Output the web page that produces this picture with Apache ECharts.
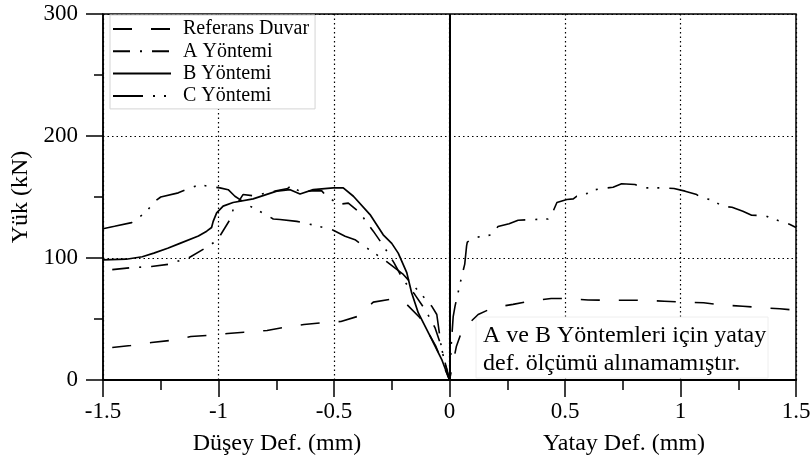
<!DOCTYPE html>
<html>
<head>
<meta charset="utf-8">
<script src="https://cdn.jsdelivr.net/npm/echarts@6/dist/echarts.min.js"></script>
<style>
  html, body { margin: 0; padding: 0; background: #fff; }
  #chart { width: 811px; height: 466px; }
</style>
</head>
<body>
<div id="chart"></div>
<script>
// [deformasyon (mm), yük (kN)] -- negatif: düşey, pozitif: yatay
const referansDuvar = [
  [-1.46, 26.6], [-1.38, 28.3], [-1.29, 30.7], [-1.21, 32.4], [-1.12, 35.6], [-1.05, 36.5],
  [-0.96, 38.1], [-0.89, 39.2], [-0.79, 40.6], [-0.72, 43], [-0.63, 45.5], [-0.55, 47],
  [-0.47, 48], [-0.40, 52], [-0.33, 63.8], [-0.26, 66], [-0.185, 62], [-0.128, 51],
  [-0.06, 28], [0, 0], [0.03, 27.7], [0.055, 41], [0.124, 53.7], [0.19, 59.4],
  [0.275, 62], [0.35, 64.6], [0.44, 66.8], [0.5, 66.8], [0.6, 65.6], [0.7, 65.4],
  [0.81, 65.4], [0.93, 64.6], [1.0, 64], [1.1, 63.3], [1.17, 61.6], [1.27, 60.5],
  [1.34, 59.4], [1.43, 58.4], [1.5, 57.2]
];
const aYontemi = [
  [-1.46, 90.5], [-1.38, 92], [-1.29, 93], [-1.21, 95], [-1.167, 98], [-1.13, 100],
  [-1.058, 108], [-1.022, 112.5], [-0.994, 118], [-0.95, 131.6], [-0.936, 140], [-0.907, 148],
  [-0.894, 152], [-0.85, 151], [-0.8, 153], [-0.75, 155], [-0.7, 157], [-0.683, 160],
  [-0.661, 156], [-0.64, 154], [-0.6, 155], [-0.553, 155], [-0.539, 152], [-0.526, 150],
  [-0.481, 144], [-0.438, 145], [-0.387, 137], [-0.358, 129], [-0.33, 122], [-0.286, 110],
  [-0.24, 96], [-0.2, 82], [-0.15, 70], [-0.1, 56], [-0.063, 43], [-0.04, 30], [0, 0]
];
const bYontemi = [
  [-1.5, 98.5], [-1.4, 99], [-1.33, 101], [-1.28, 104], [-1.22, 108], [-1.167, 112],
  [-1.087, 118], [-1.051, 122], [-1.03, 125], [-1.023, 130], [-1.008, 137], [-0.98, 142.5],
  [-0.937, 145.5], [-0.85, 148.5], [-0.748, 154.8], [-0.69, 156], [-0.647, 152.5], [-0.59, 156],
  [-0.503, 157.5], [-0.495, 156], [-0.46, 157.5], [-0.416, 150.6], [-0.344, 135.6], [-0.287, 119],
  [-0.25, 112], [-0.222, 104], [-0.185, 88], [-0.164, 71.5], [-0.135, 55], [-0.084, 36],
  [-0.034, 17], [0, 0]
];
const cYontemi = [
  [-1.5, 124], [-1.45, 126], [-1.376, 129], [-1.328, 135.6], [-1.304, 140], [-1.275, 146.6],
  [-1.25, 150], [-1.174, 153.4], [-1.123, 157.5], [-1.08, 160], [-1.044, 158.8], [-0.994, 157.5],
  [-0.958, 156], [-0.929, 150.6], [-0.864, 142.5], [-0.823, 138.4], [-0.763, 132], [-0.734, 131.6],
  [-0.661, 130], [-0.611, 128], [-0.568, 126], [-0.503, 122.8], [-0.452, 117.9], [-0.409, 115],
  [-0.373, 110], [-0.337, 105.6], [-0.272, 97], [-0.2, 86.5], [-0.159, 78], [-0.128, 71.5],
  [-0.077, 60.5], [-0.055, 53.7], [-0.034, 25], [0, 0], [0.008, 30], [0.016, 52],
  [0.024, 60.5], [0.053, 85], [0.066, 95], [0.074, 110], [0.077, 113], [0.103, 116.5],
  [0.183, 119], [0.21, 125.8], [0.258, 128], [0.297, 131], [0.426, 132], [0.448, 138],
  [0.465, 145.5], [0.508, 148], [0.536, 148.5], [0.55, 150.6], [0.587, 151], [0.6, 154],
  [0.617, 155.6], [0.665, 157], [0.708, 158], [0.745, 160.8], [0.803, 160.2], [0.839, 157.5],
  [0.875, 157.5], [0.923, 157.5], [0.972, 157], [1.02, 154.8], [1.07, 152], [1.09, 149.3],
  [1.142, 147.4], [1.178, 142.5], [1.223, 141.6], [1.27, 138.4], [1.308, 135], [1.366, 134.8],
  [1.387, 133], [1.435, 130], [1.474, 127.5], [1.5, 125]
];

const seriesNames = ['Referans Duvar', 'A Yöntemi', 'B Yöntemi', 'C Yöntemi'];
const xAxisNames = ['Düşey Def. (mm)', 'Yatay Def. (mm)'];
const yAxisName = 'Yük (kN)';
const noteLines = ['A ve B Yöntemleri için yatay', 'def. ölçümü alınamamıştır.'];

const font = 'Liberation Serif';

function line(name, data, dash, width) {
  return {
    name: name,
    type: 'line',
    data: data,
    symbol: 'none',
    z: 3,
    lineStyle: { color: '#000', width: width, type: dash },
    itemStyle: { color: '#000' },
    emphasis: { disabled: true }
  };
}

const series = [
  line(seriesNames[0], referansDuvar, [19, 19], 1.6),
  line(seriesNames[1], aYontemi, [17, 10, 2, 10], 1.6),
  line(seriesNames[2], bYontemi, 'solid', 1.7),
  line(seriesNames[3], cYontemi, [30, 10, 2, 9, 2, 10], 1.6)
];
// x = 0 dikey çizgi
series[2].markLine = {
  silent: true,
  symbol: ['none', 'none'],
  label: { show: false },
  lineStyle: { color: '#000', width: 2, type: 'solid' },
  data: [{ xAxis: 0 }]
};

const chart = echarts.init(document.getElementById('chart'));
chart.setOption({
  animation: false,
  textStyle: { fontFamily: font, color: '#000' },
  grid: {
    left: 103, right: 15, top: 14, bottom: 86,
    show: true, borderColor: '#000', borderWidth: 1.5,
    outerBoundsMode: 'none'
  },
  legend: {
    left: 110, top: 15,
    orient: 'vertical',
    data: seriesNames,
    itemWidth: 58, itemHeight: 14, itemGap: 2.3,
    padding: [4, 6, 3, 2],
    backgroundColor: '#fff',
    borderColor: '#d4d4d4', borderWidth: 1, borderRadius: 0,
    itemStyle: { color: 'rgba(0,0,0,0)', borderWidth: 0, opacity: 0 },
    textStyle: { fontFamily: font, fontSize: 20, color: '#000', padding: [0, 0, 0, 7] }
  },
  xAxis: {
    type: 'value', min: -1.5, max: 1.5, interval: 0.5,
    axisLine: { onZero: false, lineStyle: { color: '#000', width: 2 } },
    axisTick: { length: 17, lineStyle: { color: '#000', width: 1.5 } },
    minorTick: { show: true, splitNumber: 2, length: 10, lineStyle: { color: '#000', width: 1.5 } },
    axisLabel: { fontFamily: font, fontSize: 23, color: '#000', margin: 20, showMinLabel: true, showMaxLabel: true },
    splitLine: { show: true, lineStyle: { color: '#000', width: 1.2, type: [1.5, 3] } }
  },
  yAxis: {
    type: 'value', min: 0, max: 300, interval: 100,
    name: yAxisName, nameLocation: 'middle', nameGap: 70,
    nameTextStyle: { fontFamily: font, fontSize: 24, color: '#000' },
    axisLine: { show: true, onZero: false, lineStyle: { color: '#000', width: 1.5 } },
    axisTick: { show: true, length: 17, lineStyle: { color: '#000', width: 1.5 } },
    minorTick: { show: true, splitNumber: 2, length: 9, lineStyle: { color: '#000', width: 1.5 } },
    axisLabel: { fontFamily: font, fontSize: 23, color: '#000', margin: 25 },
    splitLine: { show: true, lineStyle: { color: '#000', width: 1.2, type: [1.5, 3] } }
  },
  graphic: [
    {
      type: 'rect', z: 1,
      shape: { x: 476, y: 317, width: 292, height: 61 },
      style: { fill: '#fff', stroke: '#eeeeee', lineWidth: 1 }
    },
    {
      type: 'text', z: 2, left: 483, top: 322,
      style: { text: noteLines.join('\n'), font: '24px "Liberation Serif"', fill: '#000', lineHeight: 28 }
    },
    {
      type: 'text', x: 277, y: 444,
      style: { text: xAxisNames[0], font: '24px "Liberation Serif"', fill: '#000', align: 'center', verticalAlign: 'middle' }
    },
    {
      type: 'text', x: 624, y: 444,
      style: { text: xAxisNames[1], font: '24px "Liberation Serif"', fill: '#000', align: 'center', verticalAlign: 'middle' }
    }
  ],
  series: series
});
</script>
</body>
</html>
